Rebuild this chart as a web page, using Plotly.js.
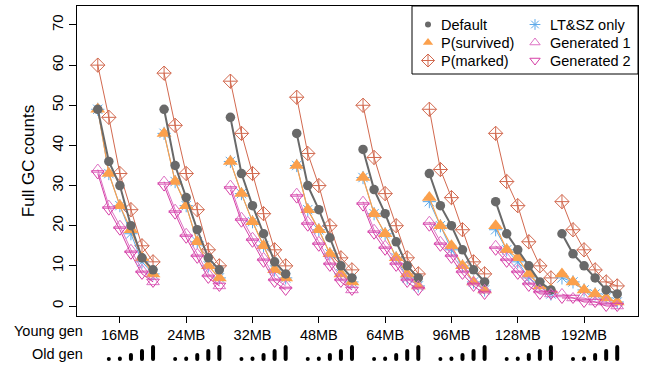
<!DOCTYPE html>
<html><head><meta charset="utf-8">
<script src="https://cdn.plot.ly/plotly-3.0.1.min.js"></script>
<style>html,body{margin:0;padding:0;background:#fff}#chart{width:647px;height:368px}</style>
</head><body><div id="chart"></div>
<script>
// Young generation sizes (one group of 6 old-gen sizes each)
const youngGen = ['16MB','24MB','32MB','48MB','64MB','96MB','128MB','192MB'];
// Relative old-gen size glyph length per step within a group (null = not drawn)
const oldGenGlyph = [null, 0, 0.5, 4, 8, 12];

// Full GC counts, 8 groups x 6 old-gen sizes
const defaultGC = [
  49,36,30,20,12,9,   49,35,27,19,12,9,   47,33,25,18,11,8,   43,30,24,17,10,7,
  39,29,23,16,10,7,   33,25,20,14,9,6,    26,18,14,10,6,4,    18,13,10,7,4,3];
const pSurvived = [
  49,33,25,19,12,8,   43,31,25,16,10,7,   36,28,21,15,9,7,    35,24,19,13,8,6,
  32,23,18,12,8,5,    27,20,15,10,6,4,    20,14,12,8,5,4,     8,6,4,3,2,1];
const pMarked = [
  60,47,33,24,15,11,  58,45,33,24,14,10,  56,43,33,23,14,10,  52,38,30,20,12,9,
  50,37,28,20,12,8,   49,34,27,19,11,8,   43,31,25,16,10,7,   26,19,14,9,6,5];
const ltszOnly = [
  49,33,25,18,11,8,   43,31,25,16,10,7,   36,28,21,15,9,7,    35,24,19,13,8,6,
  32,23,18,12,7,5,    26,20,14,10,6,4,    19,14,11,7,5,3,     7,6,4,3,2,1];
const generated1 = [
  34,25,20,14,9,6,    31,24,18,13,8,5,    30,22,17,12,7,5,    28,21,16,11,7,4,
  26,19,15,11,7,5,    21,16,13,9,6,4,     15,12,9,6,4,3,      3,2,2,1,1,0];
const generated2 = [
  33,24,19,13,8,6,    30,23,17,12,7,5,    29,21,16,11,6,4,    27,20,15,10,6,4,
  25,18,14,10,6,4,    20,15,12,8,5,3,     14,11,8,5,3,3,      2,2,1,1,0,0];

const PER = 6;
function series(vals){
  const x=[], y=[];
  for(let g=0; g<youngGen.length; g++){
    for(let i=0;i<PER;i++){ x.push(g*PER+i+1); y.push(vals[g*PER+i]); }
    x.push(null); y.push(null);
  }
  return {x,y};
}

const FONT = 'Liberation Sans, Arial, Helvetica, sans-serif';
// drawing order (bottom to top)
const specs = [
  {name:'P(marked)', vals:pMarked, color:'#D2694F', sym:'diamond-cross-open', size:11, lw:1, mlw:1, lsize:10, col:0, row:2},
  {name:'LT&SZ only', vals:ltszOnly, color:'#5DA9E9', sym:'asterisk-open', size:11, lw:1, mlw:1, lsize:9, col:1, row:0},
  {name:'P(survived)', vals:pSurvived, color:'#FBA04C', sym:'triangle-up', size:13, lw:1.2, mlw:0, lsize:9, col:0, row:1},
  {name:'Default', vals:defaultGC, color:'#696969', sym:'circle', size:9.5, lw:2, mlw:0, lsize:6, col:0, row:0},
  {name:'Generated 1', vals:generated1, color:'#DE72C4', sym:'triangle-up-open', size:11, lw:1, mlw:1, lsize:9, col:1, row:1},
  {name:'Generated 2', vals:generated2, color:'#D63FA6', sym:'triangle-down-open', size:11, lw:1, mlw:1, lsize:9, col:1, row:2}
];

const traces = [];
specs.forEach(s=>{
  const d = series(s.vals);
  traces.push({type:'scatter', mode:'lines+markers', x:d.x, y:d.y, name:s.name, showlegend:false, hoverinfo:'skip',
    line:{color:s.color, width:s.lw},
    marker:{symbol:s.sym, size:s.size, color:s.color, line:{color:s.color, width:s.mlw}}});
});

const L=77, R=638, T=6, B=316;
const PW=R-L, PH=B-T;
const px2x = p => (p-L)/PW;
const px2y = p => (B-p)/PH;

// Legend drawn on a pixel-space overlay axis pair
const legSymX = [428, 535], legTextX = [439, 548], legRowY = [24.5, 42.5, 60.5];
const annotations = [];
specs.forEach(s=>{
  traces.push({type:'scatter', mode:'markers', xaxis:'x2', yaxis:'y2', cliponaxis:false, showlegend:false, hoverinfo:'skip',
    x:[legSymX[s.col]], y:[legRowY[s.row]],
    marker:{symbol:s.sym, size:s.lsize, color:s.color, line:{color:s.color, width:s.mlw}}});
  annotations.push({text:s.name, xref:'x2', yref:'y2', x:legTextX[s.col], y:legRowY[s.row],
    xanchor:'left', yanchor:'middle', showarrow:false, font:{size:14.5}});
});

const shapes = [];
// legend frame
shapes.push({type:'rect', xref:'paper', yref:'paper', x0:px2x(412), x1:1, y0:px2y(74), y1:1,
  line:{color:'#000', width:1}, fillcolor:'rgba(255,255,255,0)', layer:'above'});
// old gen glyphs
for(let g=0; g<youngGen.length; g++){
  for(let i=0;i<PER;i++){
    const h = oldGenGlyph[i];
    if(h===null) continue;
    const xi = g*PER+i+1;
    shapes.push({type:'line', xref:'x', yref:'paper', ysizemode:'pixel', yanchor:px2y(359),
      x0:xi, x1:xi, y0:0, y1:h, line:{color:'#000', width:4}, layer:'above'});
  }
}

const tickvals = youngGen.map((_,g)=>g*PER+3);

annotations.push(
  {text:'Young gen', xref:'paper', yref:'paper', x:px2x(85), y:px2y(331), xanchor:'right', yanchor:'middle', showarrow:false, font:{size:14.5}},
  {text:'Old gen', xref:'paper', yref:'paper', x:px2x(85), y:px2y(354), xanchor:'right', yanchor:'middle', showarrow:false, font:{size:14.5}}
);

const layout = {
  width:647, height:368,
  margin:{l:L, r:647-R, t:T, b:368-B, pad:0},
  paper_bgcolor:'#fff', plot_bgcolor:'#fff',
  font:{family:FONT, size:14.5, color:'#000'},
  showlegend:false,
  xaxis:{range:[-0.88, 49.88], tickvals:tickvals, ticktext:youngGen, ticks:'outside', ticklen:6,
    tickcolor:'#000', showline:true, mirror:true, linecolor:'#000', linewidth:1, showgrid:false, zeroline:false,
    tickfont:{size:14.5}},
  yaxis:{range:[-2.49, 74.73], tickvals:[0,10,20,30,40,50,60,70], ticks:'outside', ticklen:7, tickangle:-90,
    tickcolor:'#000', showline:true, mirror:true, linecolor:'#000', linewidth:1, showgrid:false, zeroline:false,
    tickfont:{size:15}, title:{text:'Full GC counts', font:{size:17}, standoff:10}},
  xaxis2:{overlaying:'x', range:[L, R], visible:false, fixedrange:true},
  yaxis2:{overlaying:'y', range:[B, T], visible:false, fixedrange:true},
  shapes:shapes,
  annotations:annotations
};

Plotly.newPlot('chart', traces, layout, {staticPlot:true, displayModeBar:false}).then(()=>{
  document.querySelectorAll('.shapelayer path').forEach(p=>{
    if(parseFloat(p.style.strokeWidth)===4){ p.style.strokeLinecap='round'; }
  });
});
</script>
</body></html>
